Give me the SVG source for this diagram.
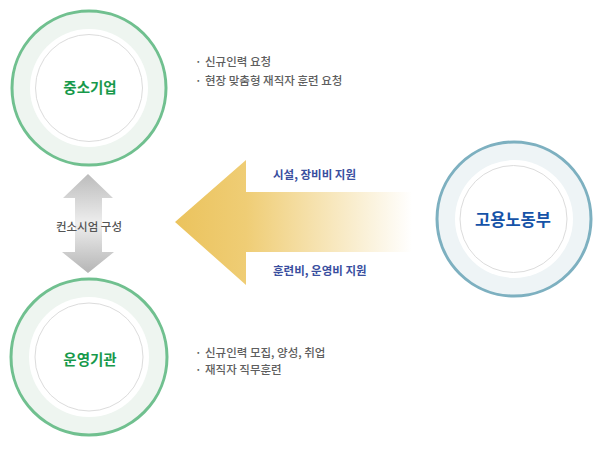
<svg xmlns="http://www.w3.org/2000/svg" width="598" height="450" viewBox="0 0 598 450">
<style>
text{font-family:"Noto Sans CJK KR","Noto Sans",sans-serif}
.ring-g{fill:#eef5f0;stroke:#70c08f;stroke-width:3}
.ring-b{fill:#eef4f6;stroke:#7db0c0;stroke-width:3}
.gap{fill:#fff}
.inner{fill:#fff;stroke:#dcdcdc;stroke-width:1}
.title-g{font-size:14.5px;font-weight:bold;fill:#17994b;text-anchor:middle}
.title-b{font-size:16.5px;font-weight:bold;fill:#1653a8;text-anchor:middle}
.bul{font-size:11.5px;font-weight:500;fill:#5e5e5e}
.lab{font-size:11.5px;font-weight:bold;fill:#3a4f9f}
.con{font-size:11.5px;font-weight:500;fill:#555;text-anchor:middle}
</style>
<defs>
<linearGradient id="gold" gradientUnits="userSpaceOnUse" x1="175" y1="0" x2="412" y2="0">
<stop offset="0" stop-color="#ebc35d"/>
<stop offset="0.3" stop-color="#efcd75"/>
<stop offset="1" stop-color="#ffffff"/>
</linearGradient>
<linearGradient id="gray" gradientUnits="userSpaceOnUse" x1="0" y1="174" x2="0" y2="273">
<stop offset="0" stop-color="#bcbcbc"/>
<stop offset="0.5" stop-color="#eeeeee"/>
<stop offset="1" stop-color="#b5b5b5"/>
</linearGradient>
</defs>
<g id="connectors">
<polygon id="support-arrow" fill="url(#gold)" points="175,222 246,160 246,192 420,192 420,252 246,252 246,285"/>
<polygon id="consortium-arrow" fill="url(#gray)" points="88,174 113,198 102,198 102,252 114,252 88,273 62,252 75,252 75,198 63,198"/>
<text class="con" x="89" y="231">컨소시엄 구성</text>
<text class="lab" x="273" y="179">시설, 장비비 지원</text>
<text class="lab" x="273" y="275">훈련비, 운영비 지원</text>
</g>
<g id="sme">
<circle class="ring-g" cx="89" cy="88" r="77"/>
<circle class="gap" cx="89" cy="88" r="59"/>
<circle class="inner" cx="89" cy="88" r="53.5"/>
<text class="title-g" x="90" y="93">중소기업</text>
</g>
<g id="sme-notes">
<text class="bul" x="195" y="66">·</text>
<text class="bul" x="205" y="66">신규인력 요청</text>
<text class="bul" x="195" y="85">·</text>
<text class="bul" x="205" y="85">현장 맞춤형 재직자 훈련 요청</text>
</g>
<g id="operator">
<circle class="ring-g" cx="89" cy="357" r="78"/>
<circle class="gap" cx="89" cy="357" r="60"/>
<circle class="inner" cx="89" cy="357" r="54"/>
<text class="title-g" x="90" y="365">운영기관</text>
</g>
<g id="operator-notes">
<text class="bul" x="195" y="357">·</text>
<text class="bul" x="205" y="357">신규인력 모집, 양성, 취업</text>
<text class="bul" x="195" y="374">·</text>
<text class="bul" x="205" y="374">재직자 직무훈련</text>
</g>
<g id="ministry">
<circle class="ring-b" cx="514" cy="219" r="77"/>
<circle class="gap" cx="514" cy="219" r="59"/>
<circle class="inner" cx="513.5" cy="219" r="53.5"/>
<text class="title-b" x="513" y="225.5">고용노동부</text>
</g>
</svg>
